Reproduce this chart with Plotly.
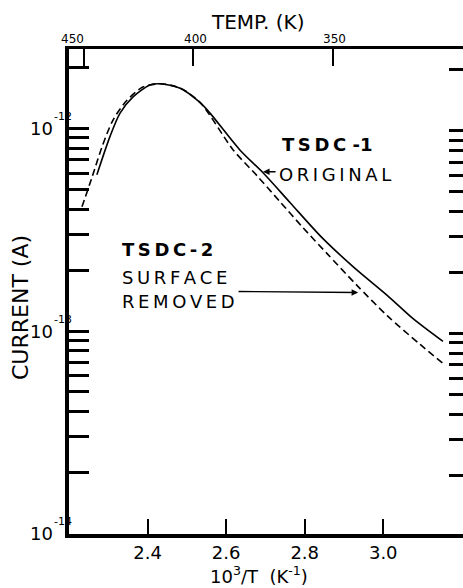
import plotly.graph_objects as go
import math

# ---- data ----
inv_t_orig = [2.271, 2.304, 2.330, 2.363, 2.406, 2.432, 2.483, 2.534, 2.559,
              2.635, 2.694, 2.763, 2.844, 2.923, 3.010, 3.076, 3.152]
cur_orig = [5.90e-13, 9.08e-13, 1.19e-12, 1.43e-12, 1.64e-12, 1.66e-12, 1.58e-12, 1.34e-12, 1.19e-12,
            7.83e-13, 6.04e-13, 4.30e-13, 2.89e-13, 2.08e-13, 1.50e-13, 1.15e-13, 8.88e-14]

inv_t_surf = [2.233, 2.259, 2.284, 2.312, 2.348, 2.388, 2.432, 2.483, 2.534,
              2.618, 2.679, 2.737, 2.796, 2.857, 2.933, 3.010, 3.094, 3.152]
cur_surf = [4.10e-13, 5.77e-13, 8.11e-13, 1.10e-12, 1.38e-12, 1.60e-12, 1.66e-12, 1.58e-12, 1.34e-12,
            7.83e-13, 5.83e-13, 4.35e-13, 3.23e-13, 2.41e-13, 1.68e-13, 1.19e-13, 8.58e-14, 6.92e-14]

x_ticks = [2.4, 2.6, 2.8, 3.0]
x_ticktext = ["2.4", "2.6", "2.8", "3.0"]
temp_ticks = [450, 400, 350]
decades = [-14, -13, -12]

# ---- derived ----
y_tickvals = []
for d in decades:
    for m in range(1, 10):
        v = m * 10.0 ** d
        if math.log10(v) > -11.6:
            break
        y_tickvals.append(v)

FONT = "DejaVu Sans"
BLACK = "black"

fig = go.Figure()
fig.add_trace(go.Scatter(x=inv_t_orig, y=cur_orig, mode="lines",
                         line=dict(color=BLACK, width=1.6, shape="spline", smoothing=0.8),
                         showlegend=False, hoverinfo="skip"))
fig.add_trace(go.Scatter(x=inv_t_surf, y=cur_surf, mode="lines",
                         line=dict(color=BLACK, width=1.6, dash="7px,4px", shape="spline", smoothing=0.8),
                         showlegend=False, hoverinfo="skip"))
# empty traces to activate top / right axes
fig.add_trace(go.Scatter(x=[], y=[], xaxis="x2", yaxis="y", showlegend=False))
fig.add_trace(go.Scatter(x=[], y=[], xaxis="x", yaxis="y2", showlegend=False))

fig.update_layout(
    width=463, height=588,
    margin=dict(l=69, r=0, t=49, b=54),
    paper_bgcolor="white", plot_bgcolor="white",
    font=dict(family=FONT, color=BLACK),
    xaxis=dict(range=[2.2, 3.203], tickvals=x_ticks, ticktext=x_ticktext,
               ticks="inside", ticklen=15, tickwidth=1.5, tickcolor=BLACK,
               showline=True, linewidth=3.5, linecolor=BLACK, mirror=False,
               showgrid=False, zeroline=False, tickfont=dict(size=18, family=FONT)),
    xaxis2=dict(range=[2.1845, 3.187], overlaying="x", side="top", anchor="y",
                tickvals=[1000.0 / t for t in temp_ticks], showticklabels=False,
                ticks="inside", ticklen=17, tickwidth=2, tickcolor=BLACK,
                showline=True, linewidth=3, linecolor=BLACK,
                showgrid=False, zeroline=False),
    yaxis=dict(type="log", range=[-14.002, -11.608], tickvals=y_tickvals, showticklabels=False,
               ticks="inside", ticklen=20, tickwidth=2.5, tickcolor=BLACK,
               showline=True, linewidth=3.5, linecolor=BLACK, mirror=False,
               showgrid=False, zeroline=False),
    yaxis2=dict(type="log", range=[-13.990, -11.596], overlaying="y", side="right", anchor="x",
                tickvals=y_tickvals, showticklabels=False,
                ticks="inside", ticklen=14, tickwidth=2.5, tickcolor=BLACK,
                showline=False, showgrid=False, zeroline=False),
)

C = dict(xanchor="center", yanchor="middle")
ann = []
# left decade labels: "10" with small exponent
for d in decades:
    ann.append(dict(text="10", xref="paper", yref="y", x=-0.0355, y=d, xanchor="right", yanchor="middle",
                    showarrow=False, font=dict(size=18, family=FONT)))
    ann.append(dict(text="-" + str(-d), xref="paper", yref="y", x=-0.0431, y=d, yshift=12,
                    xanchor="left", yanchor="middle", showarrow=False, font=dict(size=11, family=FONT)))
# top temperature tick labels
for t, shift in zip(temp_ticks, [-11, 2, 1]):
    ann.append(dict(text=str(t), xref="x2", yref="paper", x=1000.0 / t, y=1.0206, xshift=shift,
                    showarrow=False, font=dict(size=12, family=FONT), **C))
# axis titles
ann.append(dict(text="TEMP. (K)", xref="paper", yref="paper", x=0.4797, y=1.0557,
                showarrow=False, font=dict(size=20, family=FONT), **C))
ann.append(dict(text="CURRENT (A)", xref="paper", yref="paper", x=-0.1218, y=0.466, textangle=-90,
                showarrow=False, font=dict(size=22, family=FONT), **C))
ann.append(dict(text="10<sup>3</sup>/T  (K<sup>-1</sup>)", xref="paper", yref="paper", x=0.482, y=-0.0845,
                showarrow=False, font=dict(size=18, family=FONT), **C))
# curve labels
sp = "\u2009"
L = dict(xanchor="left", yanchor="middle", showarrow=False, font=dict(size=18, family=FONT))
ann.append(dict(text="<b>" + sp.join("TSDC") + " -1</b>", x=2.7373, y=-12.081, **L))
ann.append(dict(text=sp.join("ORIGINAL"), x=2.7297, y=-12.229, **L))
ann.append(dict(text="<b>" + sp.join("TSDC-2") + "</b>", x=2.3299, y=-12.599, **L))
ann.append(dict(text=sp.join("SURFACE"), x=2.3299, y=-12.736, **L))
ann.append(dict(text=sp.join("REMOVED"), x=2.3299, y=-12.855, **L))
# arrows
ann.append(dict(text="", x=2.694, y=-12.214, ax=2.7297, ay=-12.214, axref="x", ayref="y",
                showarrow=True, arrowhead=2, arrowsize=1, arrowwidth=1.3, arrowcolor=BLACK))
ann.append(dict(text="", x=2.936, y=-12.810, ax=2.6278, ay=-12.805, axref="x", ayref="y",
                showarrow=True, arrowhead=2, arrowsize=1, arrowwidth=1.3, arrowcolor=BLACK))
fig.update_layout(annotations=ann)

fig.write_html("out.html")
